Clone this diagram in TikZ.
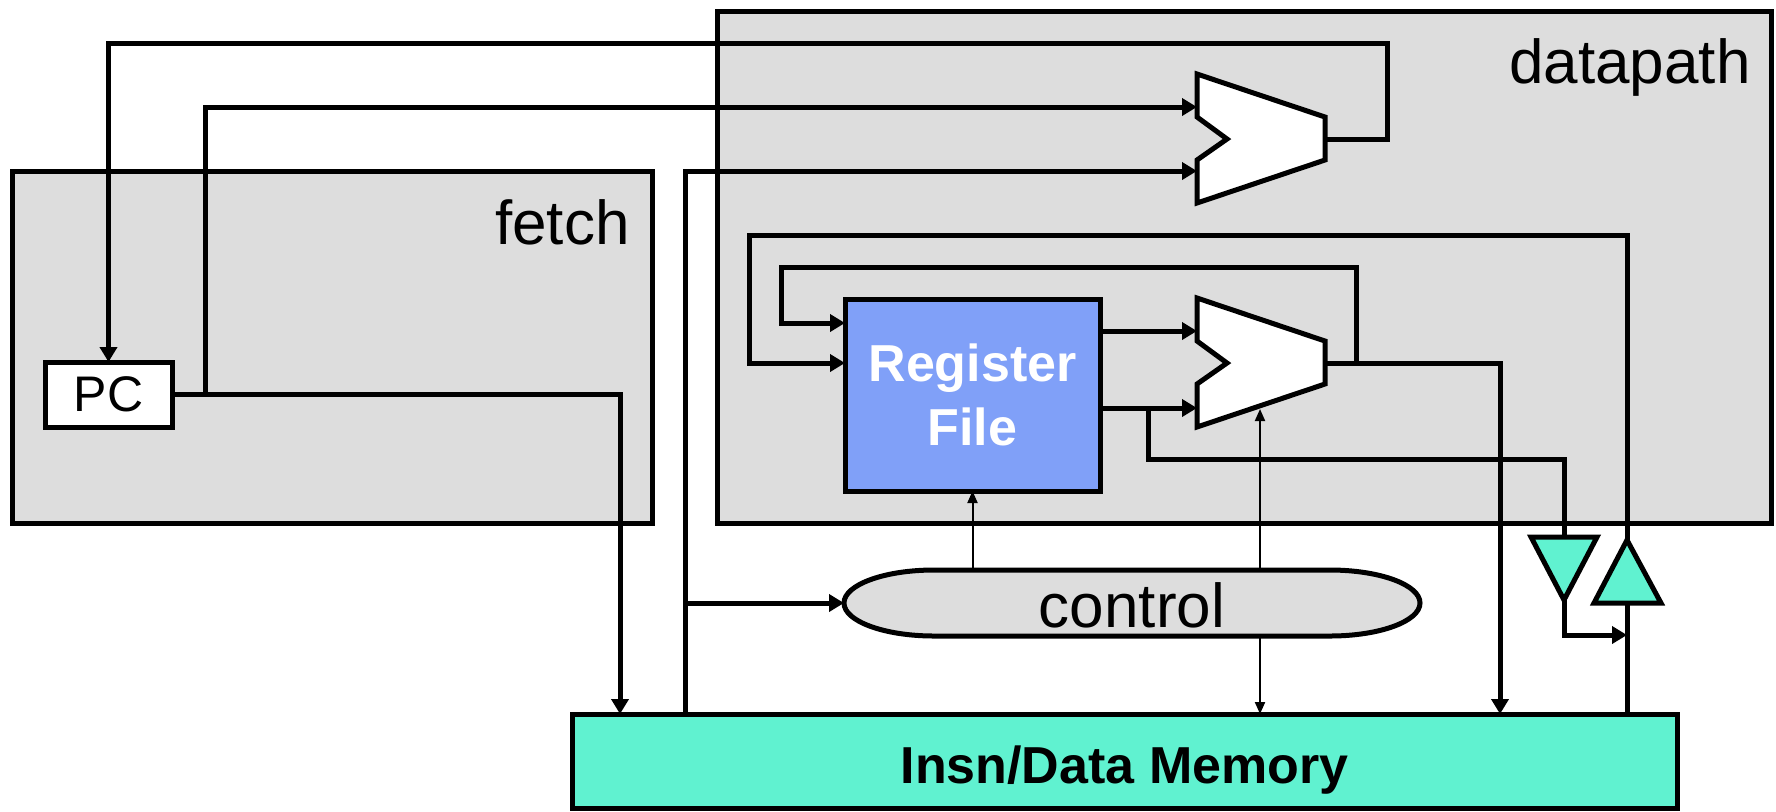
\documentclass[tikz,border=0pt]{standalone}
\usepackage{fontspec}
\setmainfont{Liberation Sans}
\usetikzlibrary{arrows.meta,calc}
\definecolor{boxgray}{HTML}{DDDDDD}
\definecolor{rfblue}{HTML}{80A0F8}
\definecolor{mint}{HTML}{60F2D0}
\tikzset{
  pics/mux/.style={code={
    \draw[line width=2.5pt,fill=white] (0,0) -- (128,43) -- (128,86) -- (0,129)
      -- (0,86) -- (30,65) -- (0,43) -- cycle;
    \coordinate (-in1) at (0,33);
    \coordinate (-in2) at (0,97);
    \coordinate (-out) at (128,65);
    \coordinate (-ctl) at (63,111);
  }}
}
\begin{document}
\begin{tikzpicture}[x=0.5pt,y=-0.5pt,
  wire/.style={line width=2.5pt},
  warrow/.style={wire,-{Triangle[length=7.5pt,width=8.5pt]}},
  sig/.style={line width=1pt,-{Triangle[length=6pt,width=5pt]}},
  comp/.style={draw,line width=2.5pt,inner sep=0pt,outer sep=0pt},
  lbl/.style={font=\fontsize{31}{31}\selectfont,inner sep=0pt},
]
\useasboundingbox (0,0) rectangle (1776,811);

% stage containers
\node[comp,fill=boxgray,minimum width=527pt,minimum height=256pt] (dp) at (1244,267) {};
\node[lbl,anchor=base east] (dplbl) at (1751,83) {datapath};
\node[comp,fill=boxgray,minimum width=320pt,minimum height=176pt] (fetch) at (332.6,347) {};
\node[lbl,anchor=base east] (fetchlbl) at (630,244) {fetch};

% components
\node[comp,fill=white,minimum width=63.5pt,minimum height=32.5pt,
      font=\fontsize{25}{25}\selectfont] (pc) at (108.5,394.5) {PC};
\node[comp,fill=rfblue,minimum width=127.5pt,minimum height=96pt,text=white,
      font=\bfseries\fontsize{26}{32}\selectfont,align=center] (rf) at (972.5,395) {Register\\File};
\node[comp,fill=mint,minimum width=552.5pt,minimum height=47pt,text height=22pt,text depth=0pt,
      font=\bfseries\fontsize{26}{26}\selectfont] (mem) at (1124.5,761) {Insn/Data Memory};

\pic (addr) at (1197,74) {mux};
\pic (alu) at (1197,298) {mux};

% control unit
\draw[wire,fill=boxgray] (934,570) -- (1330,570)
  arc[start angle=-90,end angle=90,x radius=90,y radius=33] -- (934,636)
  arc[start angle=90,end angle=270,x radius=90,y radius=33] -- cycle;
\node[lbl,minimum width=288pt,minimum height=33pt,outer sep=0pt,
      text height=24pt,text depth=0pt] (ctl) at (1132,603) {control};

% bus drivers
\draw[wire,fill=mint] (1531,537) -- (1597,537) -- (1564,600) -- cycle;
\coordinate (bufD-in) at (1564,537);
\coordinate (bufD-out) at (1564,600);
\draw[wire,fill=mint] (1594,603) -- (1661,603) -- (1627,540) -- cycle;
\coordinate (bufU-in) at (1627,603);
\coordinate (bufU-out) at (1627,540);

% ports and junctions
\coordinate (memPC) at (620,714);
\coordinate (memI) at (685,714);
\coordinate (memCtl) at (1260,714);
\coordinate (memW) at (1500,714);
\coordinate (memR) at (1627,714);
\coordinate (pcTap) at (205,394.5);
\coordinate (rfIn1) at (845,323);
\coordinate (rfIn2) at (845,363);
\coordinate (rfOut1) at (1100,331);
\coordinate (rfOut2) at (1100,408);
\coordinate (rfTap) at (1148,408);
\coordinate (aluTap) at (1356,363);
\coordinate (rdJoin) at (1627,635);

% connectors
\draw[warrow] (addr-out) -| (1387,43) -| (pc.north);
\draw[warrow] (pc.east) -| (memPC);
\draw[warrow] (pcTap) |- (addr-in1);
\draw[warrow] (memI) |- (addr-in2);
\draw[warrow] (memI |- ctl.west) -- (ctl.west);
\draw[warrow] (bufU-out) |- (749,235) |- (rfIn2);
\draw[warrow] (aluTap) |- (781,267) |- (rfIn1);
\draw[warrow] (rfOut1) -- (rfOut1 -| alu-in1);
\draw[warrow] (rfOut2) -- (rfOut2 -| alu-in1);
\draw[wire] (rfTap) -- ++(0,51) -| (bufD-in);
\draw[warrow] (alu-out) -| (memW);
\draw[warrow] (bufD-out) |- (rdJoin);
\draw[wire] (memR) -- (bufU-in);
\draw[sig] (ctl.north -| rf.south) -- (rf.south);
\draw[sig] (ctl.north -| alu-ctl) -- (alu-ctl);
\draw[sig] (ctl.south -| memCtl) -- (memCtl);
\end{tikzpicture}
\end{document}
